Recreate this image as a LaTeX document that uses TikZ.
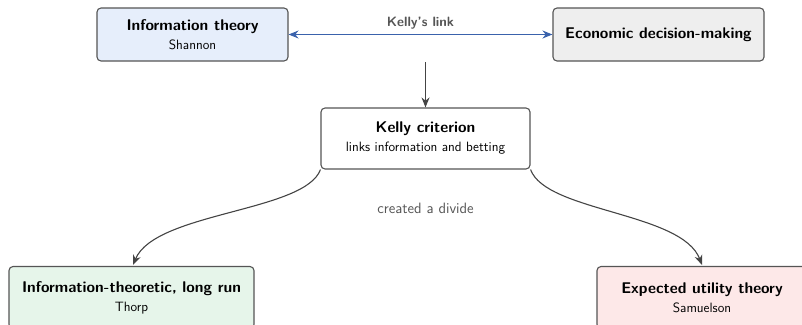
\documentclass[tikz,border=0pt]{standalone}
\usetikzlibrary{arrows.meta}
\renewcommand{\familydefault}{\sfdefault}
\definecolor{edge}{HTML}{555555}
\definecolor{arr}{HTML}{444444}
\definecolor{blink}{HTML}{3A62AC}
\definecolor{fblue}{HTML}{E6EEFB}
\definecolor{fgray}{HTML}{EEEEEE}
\definecolor{fgreen}{HTML}{E6F5EA}
\definecolor{fred}{HTML}{FDE8E8}
\definecolor{lbl}{HTML}{555555}
\tikzset{
  box/.style={draw=edge, line width=1.1pt, rounded corners=4pt, align=center, inner sep=0pt,
    font=\fontsize{13.5}{19}\selectfont},
  conn/.style={draw=arr, line width=1.1pt, -{Stealth[length=10pt,width=8pt]}},
}
\newcommand{\ttlf}{\fontsize{15.5}{19}\selectfont\bfseries}
\begin{document}
\begin{tikzpicture}[x=1pt,y=-1pt]
\useasboundingbox (0,0) rectangle (802,324);
\node[box, fill=fblue, minimum width=191pt, minimum height=53pt] (info) at (192.5,34.5)
  {{\ttlf Information theory}\\Shannon};
\node[box, fill=fgray, minimum width=211pt, minimum height=53pt] (econ) at (658.5,34.5)
  {\ttlf Economic decision-making};
\node[box, fill=white, minimum width=209pt, minimum height=61pt] (kelly) at (425.5,138.5)
  {{\ttlf Kelly criterion}\\links information and betting};
\node[box, fill=fgreen, minimum width=245pt, minimum height=62pt] (thorp) at (131.5,297.5)
  {{\ttlf Information-theoretic, long run}\\Thorp};
\node[box, fill=fred, minimum width=210pt, minimum height=62pt] (samu) at (702,297.5)
  {{\ttlf Expected utility theory}\\Samuelson};
\coordinate (tl) at (133,265);
\coordinate (tr) at (702,265);

\draw[draw=blink, line width=1.1pt, {Stealth[length=10pt,width=8pt]}-{Stealth[length=10pt,width=8pt]}]
  (info.east) -- node[above=1pt, text=lbl, font=\fontsize{13.5}{15}\selectfont\bfseries] (kl) {Kelly's link} (econ.west);
\coordinate (top) at (425.5,62);
\draw[conn] (top) -- (kelly.north);
\draw[conn] (kelly.south west) .. controls (305,212) and (155,212) .. (tl);
\draw[conn] (kelly.south east) .. controls (546,212) and (682,212) .. (tr);
\node[text=lbl, font=\fontsize{15}{17}\selectfont] (div) at (425.5,208) {created a divide};
\end{tikzpicture}
\end{document}
